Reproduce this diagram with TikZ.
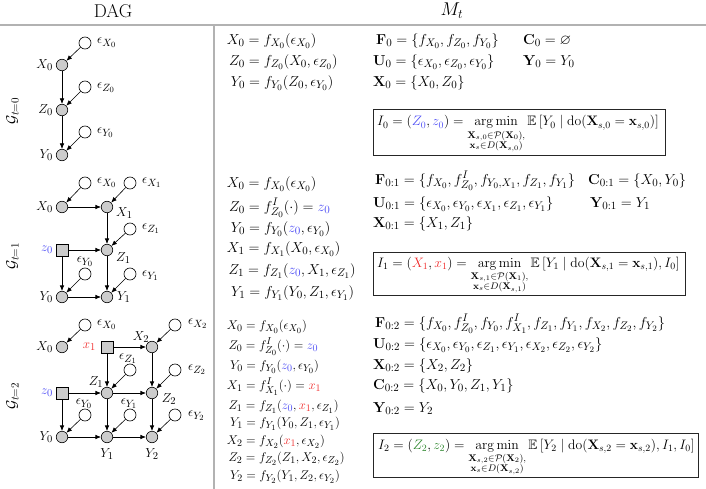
\RequirePackage{fix-cm}
\documentclass[tikz,border=0pt]{standalone}
\usepackage{amsmath,amssymb}
\usetikzlibrary{arrows.meta}
\DeclareMathSizes{14.4}{14.4}{11}{8.5}
\DeclareMathSizes{12.6}{12.6}{10}{8}
\DeclareMathSizes{13}{13}{10.5}{8}
\definecolor{zblue}{RGB}{75,75,245}
\definecolor{xred}{RGB}{240,45,45}
\definecolor{zgreen}{RGB}{45,135,45}
\definecolor{sepgray}{RGB}{178,178,178}
\newcommand{\argminop}{\mathop{\mathrm{arg\,min}}\limits}
\tikzset{
  obs/.style={circle, draw=black, fill=gray!40, minimum size=11.5pt, inner sep=0pt, line width=0.6pt},
  noise/.style={circle, draw=black, fill=white, minimum size=12pt, inner sep=0pt, line width=0.6pt},
  intv/.style={rectangle, draw=black, fill=gray!40, minimum size=12pt, inner sep=0pt, line width=0.6pt},
  edge/.style={-{Latex[length=5.5pt,width=4.5pt]}, line width=0.6pt},
  dlab/.style={inner sep=0pt, font=\fontsize{13}{15}\selectfont},
  eq/.style={anchor=mid west, inner sep=0pt, font=\fontsize{14.4}{17}\selectfont},
  eqs/.style={anchor=mid west, inner sep=0pt, font=\fontsize{12.6}{15}\selectfont},
  ibox/.style={draw=black!85, line width=0.7pt, anchor=north west, inner sep=0pt},
  itext/.style={anchor=base west, inner sep=0pt, font=\fontsize{13.7}{16}\selectfont},
  sepline/.style={draw=sepgray, line width=1.8pt},
  head/.style={inner sep=0pt, font=\fontsize{18.5}{22}\selectfont},
  glab/.style={inner sep=0pt, rotate=90, font=\fontsize{14.4}{17}\selectfont},
}
\begin{document}
\begin{tikzpicture}[x=1pt,y=-1pt]
\useasboundingbox (0,0) rectangle (706,489);
% headers and separators
\node[head] (hdag) at (113,11) {DAG};
\node[head] (hmt) at (452,11) {$M_t$};
\coordinate (hl) at (0,25.3);
\coordinate (hr) at (706,25.3);
\coordinate (vt) at (214.3,25.3);
\coordinate (vb) at (214.3,489);
\draw[sepline] (hl) -- (hr);
\draw[sepline] (vt) -- (vb);

% ---------------- t = 0 DAG ----------------
\node[glab] (g0) at (12.5,111) {$\mathcal{G}_{t=0}$};
\node[noise] (a-ex0) at (85,43) {};
\node[obs] (a-x0) at (62,65) {};
\node[noise] (a-ez0) at (85,87) {};
\node[obs] (a-z0) at (62,110) {};
\node[noise] (a-ey0) at (85,132) {};
\node[obs] (a-y0) at (62,155) {};
\node[dlab, anchor=west] (a-lex0) at (97,43) {$\epsilon_{X_0}$};
\node[dlab, anchor=west] (a-lez0) at (97,88) {$\epsilon_{Z_0}$};
\node[dlab, anchor=west] (a-ley0) at (97,133) {$\epsilon_{Y_0}$};
\node[dlab, anchor=east] (a-lx0) at (53,65) {$X_0$};
\node[dlab, anchor=east] (a-lz0) at (53,110) {$Z_0$};
\node[dlab, anchor=east] (a-ly0) at (53,155) {$Y_0$};
\draw[edge] (a-ex0) -- (a-x0);
\draw[edge] (a-x0) -- (a-z0);
\draw[edge] (a-ez0) -- (a-z0);
\draw[edge] (a-z0) -- (a-y0);
\draw[edge] (a-ey0) -- (a-y0);

% ---------------- t = 1 DAG ----------------
\node[glab] (g1) at (12.5,256) {$\mathcal{G}_{t=1}$};
\node[noise] (b-ex0) at (85,183) {};
\node[noise] (b-ex1) at (130,183) {};
\node[obs] (b-x0) at (62,207) {};
\node[obs] (b-x1) at (107,207) {};
\node[noise] (b-ez1) at (130,229) {};
\node[intv] (b-z0) at (62,250) {};
\node[obs] (b-z1) at (107,250) {};
\node[noise] (b-ey0) at (85,274) {};
\node[noise] (b-ey1) at (130,274) {};
\node[obs] (b-y0) at (62,297) {};
\node[obs] (b-y1) at (107,297) {};
\node[dlab, anchor=west] (b-lex0) at (97,183) {$\epsilon_{X_0}$};
\node[dlab, anchor=west] (b-lex1) at (142,183) {$\epsilon_{X_1}$};
\node[dlab, anchor=east] (b-lx0) at (53,207) {$X_0$};
\node[dlab, anchor=west] (b-lx1) at (116,213) {$X_1$};
\node[dlab, anchor=west] (b-lez1) at (142,229) {$\epsilon_{Z_1}$};
\node[dlab, anchor=east, text=zblue] (b-lz0) at (53,250) {$z_0$};
\node[dlab, anchor=west] (b-lz1) at (116,258) {$Z_1$};
\node[dlab] (b-ley0) at (85,262) {$\epsilon_{Y_0}$};
\node[dlab, anchor=west] (b-ley1) at (142,276) {$\epsilon_{Y_1}$};
\node[dlab, anchor=east] (b-ly0) at (53,297) {$Y_0$};
\node[dlab, anchor=west] (b-ly1) at (117,297) {$Y_1$};
\draw[edge] (b-ex0) -- (b-x0);
\draw[edge] (b-ex1) -- (b-x1);
\draw[edge] (b-x0) -- (b-x1);
\draw[edge] (b-x1) -- (b-z1);
\draw[edge] (b-ez1) -- (b-z1);
\draw[edge] (b-z0) -- (b-z1);
\draw[edge] (b-z0) -- (b-y0);
\draw[edge] (b-ey0) -- (b-y0);
\draw[edge] (b-ey1) -- (b-y1);
\draw[edge] (b-y0) -- (b-y1);
\draw[edge] (b-z1) -- (b-y1);

% ---------------- t = 2 DAG ----------------
\node[glab] (g2) at (12.5,396) {$\mathcal{G}_{t=2}$};
\node[noise] (c-ex0) at (85,325) {};
\node[obs] (c-x0) at (62,347) {};
\node[intv] (c-x1) at (107,347) {};
\node[obs] (c-x2) at (152,347) {};
\node[noise] (c-ex2) at (175,325) {};
\node[noise] (c-ez1) at (130,370) {};
\node[noise] (c-ez2) at (175,370) {};
\node[intv] (c-z0) at (62,393) {};
\node[obs] (c-z1) at (107,393) {};
\node[obs] (c-z2) at (152,393) {};
\node[noise] (c-ey0) at (85,415) {};
\node[noise] (c-ey1) at (130,415) {};
\node[noise] (c-ey2) at (175,415) {};
\node[obs] (c-y0) at (62,437) {};
\node[obs] (c-y1) at (107,437) {};
\node[obs] (c-y2) at (152,437) {};
\node[dlab, anchor=west] (c-lex0) at (97,325) {$\epsilon_{X_0}$};
\node[dlab, anchor=east] (c-lx0) at (53,347) {$X_0$};
\node[dlab, anchor=east, text=xred] (c-lx1) at (96,347) {$x_1$};
\node[dlab] (c-lx2) at (141,337) {$X_2$};
\node[dlab, anchor=west] (c-lex2) at (188,324) {$\epsilon_{X_2}$};
\node[dlab] (c-lez1) at (128,359) {$\epsilon_{Z_1}$};
\node[dlab, anchor=west] (c-lez2) at (188,370) {$\epsilon_{Z_2}$};
\node[dlab] (c-lz1) at (96,382) {$Z_1$};
\node[dlab, anchor=east, text=zblue] (c-lz0) at (53,393) {$z_0$};
\node[dlab] (c-lz2) at (169,399) {$Z_2$};
\node[dlab] (c-ley0) at (84,404) {$\epsilon_{Y_0}$};
\node[dlab] (c-ley1) at (129,404) {$\epsilon_{Y_1}$};
\node[dlab, anchor=west] (c-ley2) at (188,416) {$\epsilon_{Y_2}$};
\node[dlab, anchor=east] (c-ly0) at (53,437) {$Y_0$};
\node[dlab] (c-ly1) at (107,454) {$Y_1$};
\node[dlab] (c-ly2) at (152,454) {$Y_2$};
\draw[edge] (c-ex0) -- (c-x0);
\draw[edge] (c-x1) -- (c-x2);
\draw[edge] (c-ex2) -- (c-x2);
\draw[edge] (c-x1) -- (c-z1);
\draw[edge] (c-x2) -- (c-z2);
\draw[edge] (c-ez1) -- (c-z1);
\draw[edge] (c-ez2) -- (c-z2);
\draw[edge] (c-z0) -- (c-z1);
\draw[edge] (c-z1) -- (c-z2);
\draw[edge] (c-z0) -- (c-y0);
\draw[edge] (c-z1) -- (c-y1);
\draw[edge] (c-z2) -- (c-y2);
\draw[edge] (c-ey0) -- (c-y0);
\draw[edge] (c-ey1) -- (c-y1);
\draw[edge] (c-ey2) -- (c-y2);
\draw[edge] (c-y0) -- (c-y1);
\draw[edge] (c-y1) -- (c-y2);

% ---------------- t = 0 model ----------------
\node[eq] (m0-1) at (226.7,42) {$X_0 = f_{X_0}(\epsilon_{X_0})$};
\node[eq] (m0-2) at (229,63) {$Z_0 = f_{Z_0}(X_0,\epsilon_{Z_0})$};
\node[eq] (m0-3) at (230.7,84) {$Y_0 = f_{Y_0}(Z_0,\epsilon_{Y_0})$};
\node[eq] (s0-f) at (376,42) {$\mathbf{F}_0 = \{f_{X_0}, f_{Z_0}, f_{Y_0}\}$};
\node[eq] (s0-u) at (373,63) {$\mathbf{U}_0 = \{\epsilon_{X_0}, \epsilon_{Z_0}, \epsilon_{Y_0}\}$};
\node[eq] (s0-x) at (373,84) {$\mathbf{X}_0 = \{X_0, Z_0\}$};
\node[eq] (s0-c) at (523,42) {$\mathbf{C}_0 = \varnothing$};
\node[eq] (s0-y) at (523,63) {$\mathbf{Y}_0 = Y_0$};
\node[ibox, minimum width=292pt, minimum height=46pt] (box0) at (373,109) {};
\node[itext] (i0) at (377,126) {$\displaystyle I_0 = ({\color{zblue}Z_0}, {\color{zblue}z_0}) = \argminop_{\substack{\mathbf{X}_{s,0}\in\mathcal{P}(\mathbf{X}_0),\\ \mathbf{x}_s\in D(\mathbf{X}_{s,0})}} \mathbb{E}\,[Y_0 \mid \mathrm{do}(\mathbf{X}_{s,0}=\mathbf{x}_{s,0})]$};

% ---------------- t = 1 model ----------------
\node[eq] (m1-1) at (226.7,185) {$X_0 = f_{X_0}(\epsilon_{X_0})$};
\node[eq] (m1-2) at (229,209) {$Z_0 = f^I_{Z_0}(\cdot) = {\color{zblue}z_0}$};
\node[eq] (m1-3) at (230.7,230) {$Y_0 = f_{Y_0}({\color{zblue}z_0}, \epsilon_{Y_0})$};
\node[eq] (m1-4) at (226.7,250) {$X_1 = f_{X_1}(X_0, \epsilon_{X_0})$};
\node[eq] (m1-5) at (228.3,272) {$Z_1 = f_{Z_1}({\color{zblue}z_0}, X_1, \epsilon_{Z_1})$};
\node[eq] (m1-6) at (231,294) {$Y_1 = f_{Y_1}(Y_0, Z_1, \epsilon_{Y_1})$};
\node[eq] (s1-f) at (375,182) {$\mathbf{F}_{0:1} = \{f_{X_0}, f^I_{Z_0}, f_{Y_0,X_1}, f_{Z_1}, f_{Y_1}\}$};
\node[eq] (s1-u) at (373,205) {$\mathbf{U}_{0:1} = \{\epsilon_{X_0}, \epsilon_{Y_0}, \epsilon_{X_1}, \epsilon_{Z_1}, \epsilon_{Y_1}\}$};
\node[eq] (s1-x) at (373,225) {$\mathbf{X}_{0:1} = \{X_1, Z_1\}$};
\node[eq] (s1-c) at (588,182) {$\mathbf{C}_{0:1} = \{X_0, Y_0\}$};
\node[eq] (s1-y) at (590,205) {$\mathbf{Y}_{0:1} = Y_1$};
\node[ibox, minimum width=312pt, minimum height=43pt] (box1) at (373,252) {};
\node[itext] (i1) at (377,267) {$\displaystyle I_1 = ({\color{xred}X_1}, {\color{xred}x_1}) = \argminop_{\substack{\mathbf{X}_{s,1}\in\mathcal{P}(\mathbf{X}_1),\\ \mathbf{x}_s\in D(\mathbf{X}_{s,1})}} \mathbb{E}\,[Y_1 \mid \mathrm{do}(\mathbf{X}_{s,1}=\mathbf{x}_{s,1}), I_0]$};

% ---------------- t = 2 model ----------------
\node[eqs] (m2-1) at (226.7,327) {$X_0 = f_{X_0}(\epsilon_{X_0})$};
\node[eqs] (m2-2) at (228.3,347) {$Z_0 = f^I_{Z_0}(\cdot) = {\color{zblue}z_0}$};
\node[eqs] (m2-3) at (230,367) {$Y_0 = f_{Y_0}({\color{zblue}z_0}, \epsilon_{Y_0})$};
\node[eqs] (m2-4) at (226.7,387) {$X_1 = f^I_{X_1}(\cdot) = {\color{xred}x_1}$};
\node[eqs] (m2-5) at (228.3,407) {$Z_1 = f_{Z_1}({\color{zblue}z_0}, {\color{xred}x_1}, \epsilon_{Z_1})$};
\node[eqs] (m2-6) at (230,424) {$Y_1 = f_{Y_1}(Y_0, Z_1, \epsilon_{Y_1})$};
\node[eqs] (m2-7) at (226.7,442) {$X_2 = f_{X_2}({\color{xred}x_1}, \epsilon_{X_2})$};
\node[eqs] (m2-8) at (228.3,459) {$Z_2 = f_{Z_2}(Z_1, X_2, \epsilon_{Z_2})$};
\node[eqs] (m2-9) at (230,477) {$Y_2 = f_{Y_2}(Y_1, Z_2, \epsilon_{Y_2})$};
\node[eq] (s2-f) at (375,325) {$\mathbf{F}_{0:2} = \{f_{X_0}, f^I_{Z_0}, f_{Y_0}, f^I_{X_1}, f_{Z_1}, f_{Y_1}, f_{X_2}, f_{Z_2}, f_{Y_2}\}$};
\node[eq] (s2-u) at (373,346) {$\mathbf{U}_{0:2} = \{\epsilon_{X_0}, \epsilon_{Y_0}, \epsilon_{Z_1}, \epsilon_{Y_1}, \epsilon_{X_2}, \epsilon_{Z_2}, \epsilon_{Y_2}\}$};
\node[eq] (s2-x) at (373,367) {$\mathbf{X}_{0:2} = \{X_2, Z_2\}$};
\node[eq] (s2-c) at (373,387) {$\mathbf{C}_{0:2} = \{X_0, Y_0, Z_1, Y_1\}$};
\node[eq] (s2-y) at (373,410) {$\mathbf{Y}_{0:2} = Y_2$};
\node[ibox, minimum width=325pt, minimum height=44pt] (box2) at (373,433) {};
\node[itext] (i2) at (378,449) {$\displaystyle I_2 = ({\color{zgreen}Z_2}, {\color{zgreen}z_2}) = \argminop_{\substack{\mathbf{X}_{s,2}\in\mathcal{P}(\mathbf{X}_2),\\ \mathbf{x}_s\in D(\mathbf{X}_{s,2})}} \mathbb{E}\,[Y_2 \mid \mathrm{do}(\mathbf{X}_{s,2}=\mathbf{x}_{s,2}), I_1, I_0]$};
\end{tikzpicture}
\end{document}
